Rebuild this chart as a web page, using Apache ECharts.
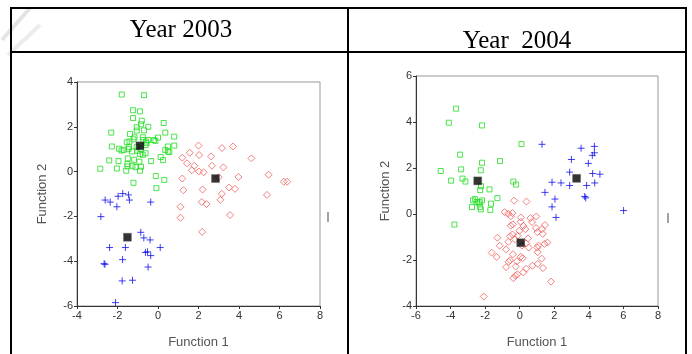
<!DOCTYPE html>
<html><head><meta charset="utf-8">
<script src="https://cdn.jsdelivr.net/npm/echarts@6/dist/echarts.min.js"></script>
<style>html,body{margin:0;padding:0;background:#fff}#c{width:692px;height:354px}</style>
</head><body><div id="c"></div>
<script>
// ---- Data ----
const headers = ["Year 2003", "Year  2004"];
const xName = "Function 1";
const yName = "Function 2";

const green2003 = [[-1.79,3.44],[-0.69,3.41],[-1.23,2.74],[-0.89,2.69],[-1.23,2.39],[-0.80,2.27],[-0.84,2.11],[0.28,2.17],[-2.31,1.74],[-1.05,1.98],[-0.48,2.0],[-0.69,1.84],[-1.05,1.83],[0.36,1.74],[-1.38,1.68],[-1.16,1.53],[-0.75,1.53],[0.80,1.56],[0,1.52],[-0.2,1.41],[-1.54,1.31],[-1.41,1.34],[-1.21,1.44],[-0.59,1.34],[-0.48,1.41],[-0.72,1.41],[-0.13,1.37],[-2.28,1.12],[-1.43,1.09],[-1.05,1.09],[-0.56,1.27],[-0.61,1.19],[0.49,1.12],[0.80,1.16],[-1.92,1.02],[-1.70,0.97],[-1.80,0.94],[-1.46,1.0],[-1.28,0.9],[-0.85,1.0],[-1.02,0.93],[0.36,0.97],[0.49,0.90],[0.56,0.87],[-0.61,0.82],[-0.89,0.78],[-0.75,0.75],[0.13,0.65],[-2.41,0.50],[-1.95,0.47],[-1.49,0.59],[-1.18,0.53],[-0.34,0.47],[0.25,0.51],[-0.92,0.44],[-1.26,0.26],[-1.51,0.34],[-1.51,0.23],[-1.11,0.20],[-0.84,0.22],[-2.85,0.13],[-2.03,0.14],[-1.57,0.04],[-0.89,0.04],[-0.11,-0.2],[0.31,-0.37],[-1.21,-0.5],[-0.08,-0.74]];
const red2003 = [[2.0,1.16],[3.70,1.12],[3.16,1.05],[1.57,0.84],[2.03,0.74],[2.62,0.68],[4.61,0.59],[1.20,0.62],[1.43,0.37],[1.79,0.26],[2.66,0.26],[3.23,0.19],[1.67,0.06],[2.02,0.01],[2.25,-0.03],[3.0,-0.25],[3.97,-0.24],[5.46,-0.14],[1.20,-0.31],[6.21,-0.45],[6.38,-0.45],[1.25,-0.83],[2.20,-0.80],[3.51,-0.71],[3.80,-0.77],[3.15,-0.99],[5.38,-1.04],[3.08,-1.26],[2.16,-1.36],[2.39,-1.45],[1.11,-1.57],[1.11,-2.06],[3.56,-1.94],[2.18,-2.69]];
const blue2003 = [[-1.74,-0.98],[-1.46,-1.04],[-1.97,-1.10],[-2.61,-1.27],[-2.36,-1.36],[-1.41,-1.27],[-0.36,-1.36],[-2.03,-1.57],[-2.82,-2.01],[-0.85,-2.71],[-0.70,-2.96],[-0.39,-3.05],[-2.39,-3.39],[-1.61,-3.39],[0.11,-3.39],[-0.62,-3.61],[-0.52,-3.58],[-0.36,-3.75],[-1.75,-3.93],[-2.66,-4.11],[-2.62,-4.14],[-0.49,-4.26],[-1.77,-4.88],[-1.26,-4.85],[-2.10,-5.85]];
const centroids2003 = [[-0.89,1.15],[2.84,-0.31],[-1.51,-2.93]];

const green2004 = [[-3.68,4.58],[-4.10,3.97],[-2.18,3.85],[0.10,3.04],[-3.45,2.58],[-2.18,2.23],[-1.14,2.30],[-3.39,1.94],[-2.25,1.90],[-4.57,1.87],[-3.97,1.45],[-3.31,1.54],[-3.14,1.41],[-0.37,1.41],[-0.21,1.28],[-2.24,1.21],[-2.29,1.04],[-1.75,1.07],[-1.29,0.69],[-2.70,0.59],[-2.58,0.65],[-2.18,0.59],[-2.49,0.52],[-2.37,0.46],[-2.31,0.52],[-1.66,0.45],[-2.76,0.30],[-2.29,0.31],[-2.25,0.20],[-1.70,0.18],[-3.78,-0.46]];
const blue2004 = [[1.29,3.03],[3.55,2.86],[4.32,2.94],[4.32,2.66],[4.20,2.55],[2.99,2.37],[3.97,2.20],[2.89,1.82],[4.22,1.76],[4.64,1.73],[1.87,1.38],[2.39,1.35],[4.34,1.35],[2.89,1.24],[3.87,1.24],[1.46,0.94],[3.76,0.76],[3.82,0.70],[2.04,0.65],[1.87,0.31],[2.10,-0.15],[6.01,0.15]];
const red2004 = [[-0.33,0.58],[0.39,0.54],[-0.87,0.08],[-0.67,0.01],[-0.42,0.04],[-0.52,-0.10],[0.06,-0.15],[0.62,-0.18],[0.96,-0.11],[0.71,-0.35],[1.46,-0.48],[-0.52,-0.51],[-0.40,-0.45],[0.06,-0.34],[0.21,-0.52],[0.33,-0.66],[-0.02,-0.73],[0.94,-0.61],[1.29,-0.66],[1.02,-0.79],[1.33,-0.86],[-0.42,-0.89],[-0.56,-0.97],[-0.12,-0.94],[-1.29,-1.03],[0.48,-1.06],[-0.27,-1.10],[0.37,-1.28],[-0.66,-1.21],[1.08,-1.37],[1.02,-1.46],[0.52,-1.46],[-1.16,-1.38],[0.13,-1.38],[1.43,-1.30],[1.60,-1.24],[-0.79,-1.54],[-1.62,-1.68],[-0.39,-1.75],[1.04,-1.66],[-1.33,-1.87],[-0.56,-2.01],[0.06,-1.86],[0.17,-1.92],[1.27,-1.94],[-0.64,-2.08],[-0.17,-2.06],[-0.23,-2.28],[-0.79,-2.31],[1.04,-2.17],[0.73,-2.25],[1.35,-2.35],[0.37,-2.38],[0.21,-2.54],[-0.13,-2.62],[-0.37,-2.79],[-0.25,-2.68],[1.81,-2.94],[-2.08,-3.59]];
const centroids2004 = [[-2.43,1.44],[3.29,1.55],[0.06,-1.25]];

const xRange2003 = [-4, 8], yRange2003 = [-6, 4];
const xRange2004 = [-6, 8], yRange2004 = [-4, 6];

// ---- Chart ----
const crossPath = 'path://M0,5L10,5M5,0L5,10';
function axisX(idx, r){
  return {gridIndex: idx, type:'value', min:r[0], max:r[1], interval:2,
    name: xName, nameLocation:'middle', nameGap:30,
    nameTextStyle:{fontFamily:'Arial, Liberation Sans', fontSize:13, color:'#555'},
    axisLine:{onZero:false, lineStyle:{color:'#333', width:1}},
    axisTick:{length:3, lineStyle:{color:'#333'}},
    axisLabel:{fontFamily:'Arial, Liberation Sans', fontSize:11, color:'#333', margin:4},
    splitLine:{show:false}};
}
function axisY(idx, r, gap){
  return {gridIndex: idx, type:'value', min:r[0], max:r[1], interval:2,
    name: yName, nameLocation:'middle', nameGap:gap, nameRotate:90,
    nameTextStyle:{fontFamily:'Arial, Liberation Sans', fontSize:13, color:'#555'},
    axisLine:{onZero:false, lineStyle:{color:'#333', width:1}},
    axisTick:{length:3, lineStyle:{color:'#333'}},
    axisLabel:{fontFamily:'Arial, Liberation Sans', fontSize:11, color:'#333', margin:4},
    splitLine:{show:false}};
}
function sc(idx, data, kind){
  const base = {type:'scatter', xAxisIndex:idx, yAxisIndex:idx, data:data, silent:true, animation:false};
  if(kind==='g') return Object.assign(base,{symbol:'rect', symbolSize:5, itemStyle:{color:'rgba(0,0,0,0)', borderColor:'#22dd22', borderWidth:1}});
  if(kind==='r') return Object.assign(base,{symbol:'diamond', symbolSize:7, itemStyle:{color:'rgba(0,0,0,0)', borderColor:'#f06060', borderWidth:1}});
  if(kind==='b') return Object.assign(base,{symbol:crossPath, symbolSize:7, itemStyle:{color:'none', borderColor:'#1010ee', borderWidth:1}});
  return Object.assign(base,{symbol:'rect', symbolSize:8, z:5, itemStyle:{color:'#000', borderColor:'#666', borderWidth:0.5}});
}

const chart = echarts.init(document.getElementById('c'), null, {renderer:'canvas'});
const lineStyle = {stroke:'#000', lineWidth:2};
chart.setOption({
  animation:false,
  grid:[
    {left:77, top:82, width:243, height:225, show:true, borderColor:'#999', borderWidth:1, backgroundColor:'transparent'},
    {left:416, top:76, width:242, height:236, show:true, borderColor:'#999', borderWidth:1, backgroundColor:'transparent'}
  ],
  xAxis:[axisX(0, xRange2003), axisX(1, xRange2004)],
  yAxis:[axisY(0, yRange2003, 28), axisY(1, yRange2004, 24)],
  series:[
    sc(0, green2003,'g'), sc(0, red2003,'r'), sc(0, blue2003,'b'), sc(0, centroids2003,'c'),
    sc(1, green2004,'g'), sc(1, red2004,'r'), sc(1, blue2004,'b'), sc(1, centroids2004,'c')
  ],
  graphic:[
    {type:'line', shape:{x1:2, y1:40, x2:30, y2:8}, style:{stroke:'#e4e4e4', lineWidth:4}, z:-1},
    {type:'line', shape:{x1:8, y1:55, x2:40, y2:25}, style:{stroke:'#ececec', lineWidth:4}, z:-1},
    {type:'line', shape:{x1:11, y1:8, x2:686, y2:8}, style:lineStyle},
    {type:'line', shape:{x1:11, y1:52, x2:686, y2:52}, style:lineStyle},
    {type:'line', shape:{x1:11, y1:7, x2:11, y2:354}, style:lineStyle},
    {type:'line', shape:{x1:348, y1:7, x2:348, y2:354}, style:lineStyle},
    {type:'line', shape:{x1:686, y1:7, x2:686, y2:354}, style:lineStyle},
    {type:'text', x:181, y:30, style:{text:headers[0], font:'25px "Liberation Serif", "Times New Roman", serif', fill:'#000', textAlign:'center', textVerticalAlign:'middle'}},
    {type:'text', x:517, y:41, style:{text:headers[1], font:'25px "Liberation Serif", "Times New Roman", serif', fill:'#000', textAlign:'center', textVerticalAlign:'middle', whiteSpace:'pre'}},
    {type:'line', shape:{x1:328, y1:212, x2:328, y2:222}, style:{stroke:'#444', lineWidth:1}},
    {type:'line', shape:{x1:668, y1:213, x2:668, y2:223}, style:{stroke:'#444', lineWidth:1}}
  ]
});
</script>
</body></html>
